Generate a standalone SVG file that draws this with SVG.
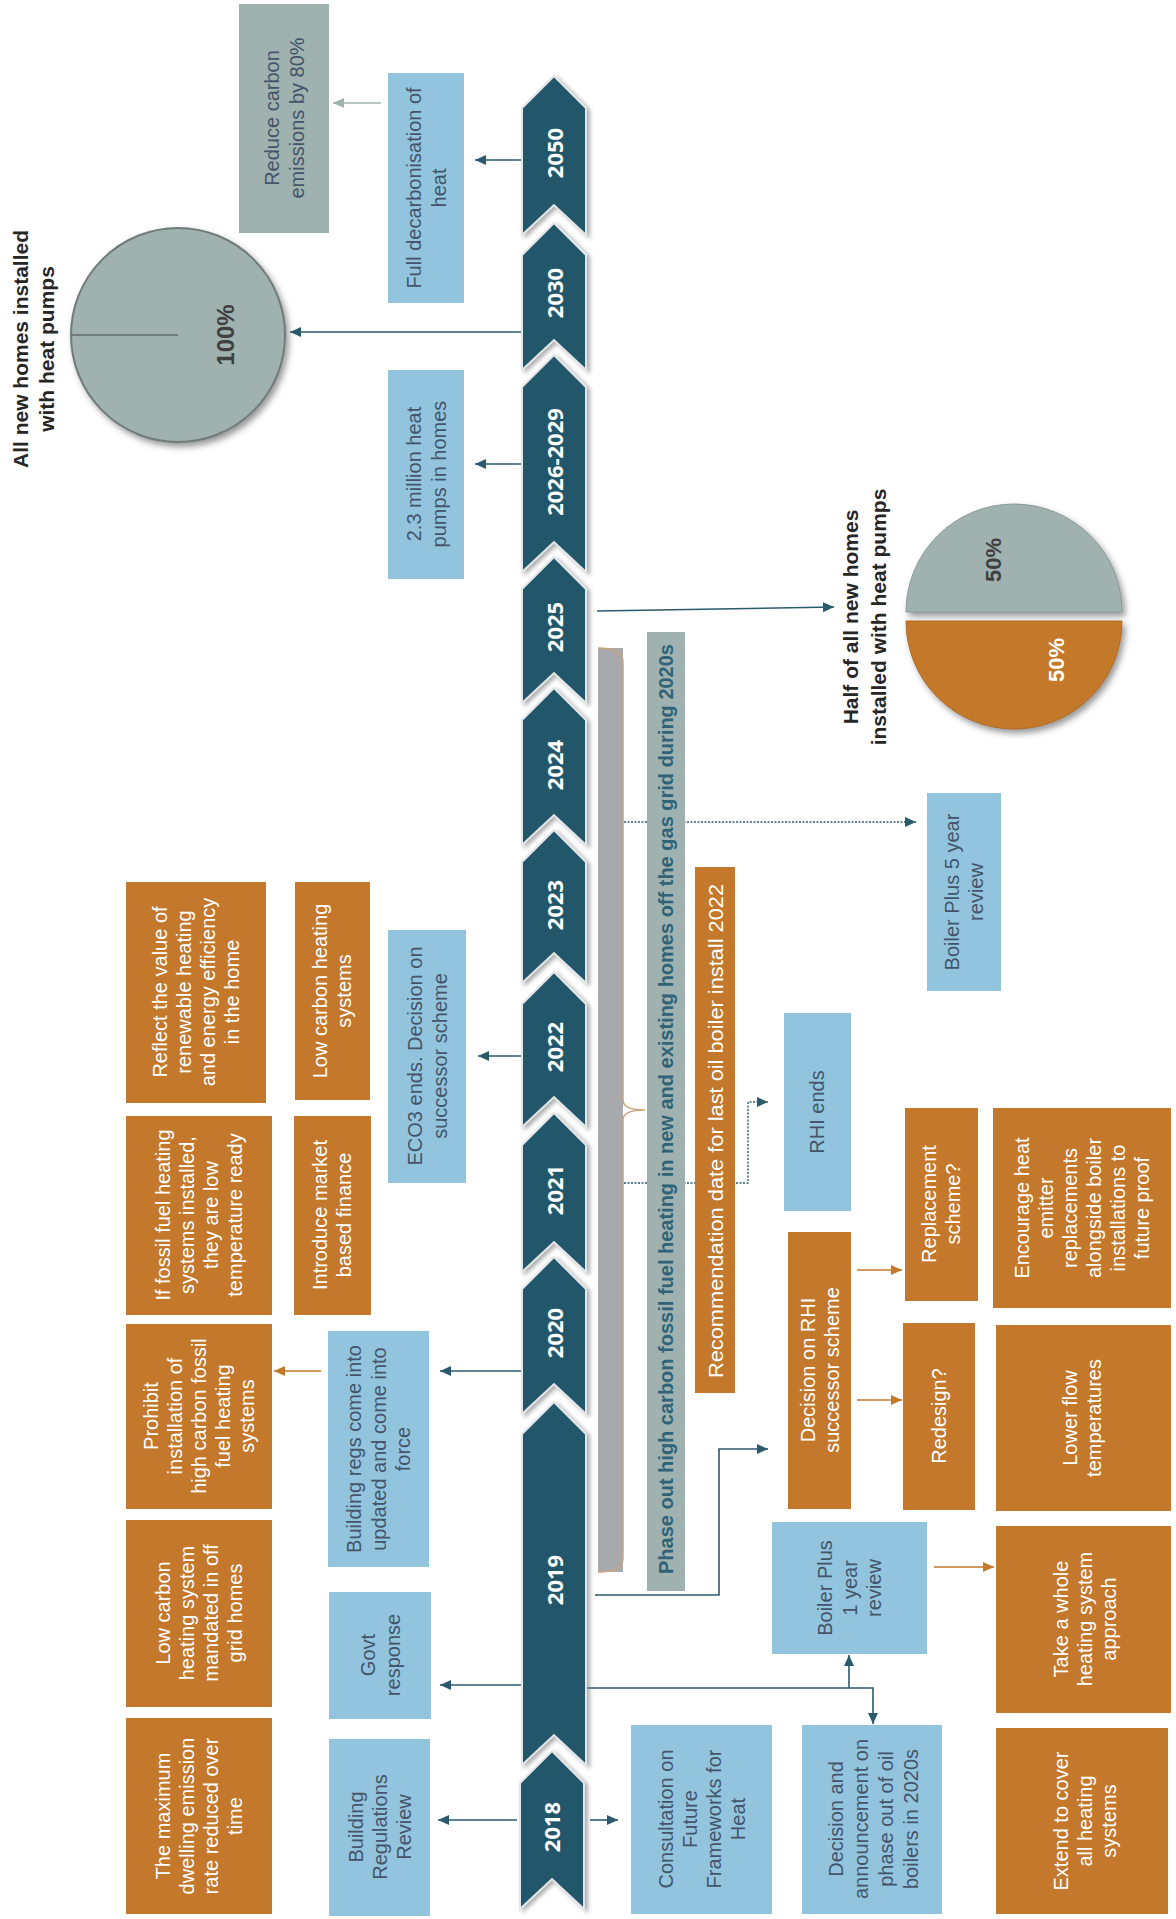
<svg xmlns="http://www.w3.org/2000/svg" width="1176" height="1919" viewBox="0 0 1176 1919">
<defs>
<style>
.b{fill:#92c5dd}
.o{fill:#c3782b}
.g{fill:#9fb2af}
text{font-family:"Liberation Sans",Arial,sans-serif;font-size:20px;text-anchor:middle}
.td{fill:#44546a}
.tw{fill:#ffffff}
.tt{fill:#262626;font-weight:bold;font-size:21px}
.yr{fill:#ffffff;font-family:"Open Sans","Liberation Sans",sans-serif;font-weight:bold;font-size:22px}
.chev{fill:#22566a;stroke:#e3e6e8;stroke-width:2;filter:url(#sh)}
.c{fill:none;stroke:#2b5a6d;stroke-width:1.6}
.cd{fill:none;stroke:#2b5a6d;stroke-width:1.4;stroke-dasharray:2 1.5}
.co{fill:none;stroke:#c3782b;stroke-width:1.6}
.cg{fill:none;stroke:#9fb2af;stroke-width:1.6}
</style>
<filter id="sh" x="-20%" y="-10%" width="150%" height="130%">
<feDropShadow dx="3" dy="2" stdDeviation="2" flood-color="#777" flood-opacity="0.6"/>
</filter>
<filter id="psh" x="-20%" y="-20%" width="150%" height="150%">
<feDropShadow dx="3" dy="4" stdDeviation="3" flood-color="#555" flood-opacity="0.6"/>
</filter>
<marker id="at" markerUnits="userSpaceOnUse" markerWidth="12" markerHeight="12" refX="11" refY="6" orient="auto"><path d="M0,1 L11,6 L0,11 z" fill="#2b5a6d"/></marker>
<marker id="ao" markerUnits="userSpaceOnUse" markerWidth="12" markerHeight="12" refX="11" refY="6" orient="auto"><path d="M0,1 L11,6 L0,11 z" fill="#c3782b"/></marker>
<marker id="ag" markerUnits="userSpaceOnUse" markerWidth="12" markerHeight="12" refX="11" refY="6" orient="auto"><path d="M0,1 L11,6 L0,11 z" fill="#9fb2af"/></marker>
</defs>
<rect width="1176" height="1919" fill="#ffffff"/>

<!-- connectors -->
<g id="connectors">
<line class="c" x1="522" y1="160" x2="475" y2="160" marker-end="url(#at)"/>
<line class="c" x1="522" y1="332" x2="290" y2="332" marker-end="url(#at)"/>
<line class="c" x1="522" y1="464" x2="475" y2="464" marker-end="url(#at)"/>
<line class="cg" x1="381" y1="103" x2="333" y2="103" marker-end="url(#ag)"/>
<line class="c" x1="597" y1="611" x2="834" y2="607" marker-end="url(#at)"/>
<line class="cd" x1="603" y1="822" x2="916" y2="822" marker-end="url(#at)"/>
<line class="c" x1="522" y1="1056" x2="478" y2="1056" marker-end="url(#at)"/>
<path class="cd" d="M603,1183 H748 V1102 H768" marker-end="url(#at)"/>
<line class="c" x1="522" y1="1371" x2="440" y2="1371" marker-end="url(#at)"/>
<line class="co" x1="321" y1="1371" x2="274" y2="1371" marker-end="url(#ao)"/>
<path class="c" d="M595,1595 H719 V1449 H768" marker-end="url(#at)"/>
<line class="c" x1="522" y1="1685" x2="440" y2="1685" marker-end="url(#at)"/>
<path class="c" d="M586,1688 H873 V1724" marker-end="url(#at)"/>
<line class="c" x1="849" y1="1688" x2="849" y2="1655" marker-end="url(#at)"/>
<line class="co" x1="857" y1="1270" x2="902" y2="1270" marker-end="url(#ao)"/>
<line class="co" x1="857" y1="1400" x2="902" y2="1400" marker-end="url(#ao)"/>
<line class="co" x1="934" y1="1567" x2="994" y2="1567" marker-end="url(#ao)"/>
<line class="c" x1="517" y1="1820" x2="438" y2="1820" marker-end="url(#at)"/>
<line class="c" x1="590" y1="1820" x2="618" y2="1820" marker-end="url(#at)"/>
</g>

<!-- timeline chevrons -->
<g id="timeline">
<g id="y2050"><path class="chev" d="M554,76 L586,108 L586,235 L554,205 L522,235 L522,108 Z"/><text class="yr" transform="translate(555,153) rotate(-90)" y="8">2050</text></g>
<g id="y2030"><path class="chev" d="M554,223 L586,255 L586,370 L554,340 L522,370 L522,255 Z"/><text class="yr" transform="translate(555,293) rotate(-90)" y="8">2030</text></g>
<g id="y2026"><path class="chev" d="M554,355 L586,387 L586,572 L554,542 L522,572 L522,387 Z"/><text class="yr" transform="translate(555,462) rotate(-90)" y="8">2026-2029</text></g>
<g id="y2025"><path class="chev" d="M554,557 L586,589 L586,703 L554,673 L522,703 L522,589 Z"/><text class="yr" transform="translate(555,627) rotate(-90)" y="8">2025</text></g>
<g id="y2024"><path class="chev" d="M554,688 L586,720 L586,845 L554,815 L522,845 L522,720 Z"/><text class="yr" transform="translate(555,765) rotate(-90)" y="8">2024</text></g>
<g id="y2023"><path class="chev" d="M554,830 L586,862 L586,983 L554,953 L522,983 L522,862 Z"/><text class="yr" transform="translate(555,905) rotate(-90)" y="8">2023</text></g>
<g id="y2022"><path class="chev" d="M554,972 L586,1004 L586,1127 L554,1097 L522,1127 L522,1004 Z"/><text class="yr" transform="translate(555,1047) rotate(-90)" y="8">2022</text></g>
<g id="y2021"><path class="chev" d="M554,1113 L586,1145 L586,1272 L554,1242 L522,1272 L522,1145 Z"/><text class="yr" transform="translate(555,1190) rotate(-90)" y="8">2021</text></g>
<g id="y2020"><path class="chev" d="M554,1257 L586,1289 L586,1414 L554,1384 L522,1414 L522,1289 Z"/><text class="yr" transform="translate(555,1333) rotate(-90)" y="8">2020</text></g>
<g id="y2019"><path class="chev" d="M554,1402 L586,1434 L586,1765 L554,1735 L522,1765 L522,1434 Z"/><text class="yr" transform="translate(555,1580) rotate(-90)" y="8">2019</text></g>
<g id="y2018"><path class="chev" d="M552,1751 L584,1783 L584,1909 L552,1879 L520,1909 L520,1783 Z"/><text class="yr" transform="translate(552,1827) rotate(-90)" y="8">2018</text></g>
</g>

<!-- brace -->
<g id="brace">
<rect x="598" y="648" width="25" height="924" fill="#a7a9ac"/>
<path d="M598,648 Q623,648 623,662 V1100 Q623,1110 645,1110 Q623,1110 623,1120 V1558 Q623,1572 598,1572" fill="none" stroke="#c9a57d" stroke-width="1.5"/>
</g>

<!-- top-left -->
<g id="title-all">
<text class="tt" transform="translate(34,349) rotate(-90)"><tspan x="0" y="-6">All new homes installed</tspan><tspan x="0" y="20">with heat pumps</tspan></text>
</g>
<g id="pie-100">
<circle cx="178" cy="335" r="107" fill="#9fb2af" stroke="#6f7c7b" stroke-width="2" filter="url(#psh)"/>
<line x1="71" y1="335" x2="178" y2="335" stroke="#6f7c7b" stroke-width="2"/>
<text transform="translate(226,335) rotate(-90)" y="8" style="font-weight:bold;font-size:24px;fill:#404040">100%</text>
</g>
<g id="n-reduce">
<rect class="g" x="239" y="4" width="90" height="229"/>
<text class="td" transform="translate(284,118) rotate(-90)"><tspan x="0" y="-5">Reduce carbon</tspan><tspan x="0" y="20">emissions by 80%</tspan></text>
</g>
<g id="n-fulldecarb">
<rect class="b" x="388" y="73" width="76" height="230"/>
<text class="td" transform="translate(426,188) rotate(-90)"><tspan x="0" y="-5">Full decarbonisation of</tspan><tspan x="0" y="20">heat</tspan></text>
</g>
<g id="n-23million">
<rect class="b" x="388" y="370" width="76" height="209"/>
<text class="td" transform="translate(426,474) rotate(-90)"><tspan x="0" y="-5">2.3 million heat</tspan><tspan x="0" y="20">pumps in homes</tspan></text>
</g>

<!-- half pie -->
<g id="title-half">
<text class="tt" transform="translate(865,617) rotate(-90)"><tspan x="0" y="-7">Half of all new homes</tspan><tspan x="0" y="21">installed with heat pumps</tspan></text>
</g>
<g id="pie-50">
<path d="M906,612 A108,108 0 0 1 1122,612 Z" fill="#9fb2af" stroke="#8a9a98" stroke-width="1" filter="url(#psh)"/>
<path d="M906,621 A108,108 0 0 0 1122,621 Z" fill="#c3782b" stroke="#b06a22" stroke-width="1" filter="url(#psh)"/>
<text transform="translate(993,560) rotate(-90)" y="8" style="font-weight:bold;font-size:22px;fill:#404040">50%</text>
<text transform="translate(1056,660) rotate(-90)" y="8" style="font-weight:bold;font-size:22px;fill:#ffffff">50%</text>
</g>

<!-- bars -->
<g id="n-phaseout">
<rect class="g" x="647" y="632" width="38" height="959"/>
<text transform="translate(666,1109) rotate(-90)" y="7" textLength="930" lengthAdjust="spacingAndGlyphs" style="font-weight:bold;font-size:21px;fill:#2f6378">Phase out high carbon fossil fuel heating in new and existing homes off the gas grid during 2020s</text>
</g>
<g id="n-recommend">
<rect class="o" x="695" y="867" width="40" height="526"/>
<text class="tw" transform="translate(715,1131) rotate(-90)" y="8" textLength="494" lengthAdjust="spacingAndGlyphs" style="font-size:21px">Recommendation date for last oil boiler install 2022</text>
</g>

<!-- blue nodes -->
<g id="n-boiler5">
<rect class="b" x="927" y="793" width="74" height="198"/>
<text class="td" transform="translate(964,892) rotate(-90)"><tspan x="0" y="-5">Boiler Plus 5 year</tspan><tspan x="0" y="19">review</tspan></text>
</g>
<g id="n-rhiends">
<rect class="b" x="784" y="1013" width="67" height="198"/>
<text class="td" transform="translate(817,1112) rotate(-90)" y="7">RHI ends</text>
</g>
<g id="n-eco3">
<rect class="b" x="388" y="930" width="78" height="253"/>
<text class="td" transform="translate(427,1056) rotate(-90)"><tspan x="0" y="-5">ECO3 ends. Decision on</tspan><tspan x="0" y="20">successor scheme</tspan></text>
</g>
<g id="n-buildingregs">
<rect class="b" x="328" y="1331" width="101" height="236"/>
<text class="td" transform="translate(379,1449) rotate(-90)"><tspan x="0" y="-18">Building regs come into</tspan><tspan x="0" y="7">updated and come into</tspan><tspan x="0" y="31">force</tspan></text>
</g>
<g id="n-govt">
<rect class="b" x="329" y="1592" width="102" height="127"/>
<text class="td" transform="translate(380,1655) rotate(-90)"><tspan x="0" y="-5">Govt</tspan><tspan x="0" y="20">response</tspan></text>
</g>
<g id="n-bregreview">
<rect class="b" x="329" y="1739" width="101" height="177"/>
<text class="td" transform="translate(380,1827) rotate(-90)"><tspan x="0" y="-17">Building</tspan><tspan x="0" y="7">Regulations</tspan><tspan x="0" y="31">Review</tspan></text>
</g>
<g id="n-consult">
<rect class="b" x="631" y="1725" width="141" height="189"/>
<text class="td" transform="translate(702,1819) rotate(-90)"><tspan x="0" y="-29">Consultation on</tspan><tspan x="0" y="-5">Future</tspan><tspan x="0" y="19">Frameworks for</tspan><tspan x="0" y="43">Heat</tspan></text>
</g>
<g id="n-decisionoil">
<rect class="b" x="802" y="1725" width="140" height="189"/>
<text class="td" transform="translate(873,1819) rotate(-90)"><tspan x="0" y="-30">Decision and</tspan><tspan x="0" y="-5">announcement on</tspan><tspan x="0" y="20">phase out of oil</tspan><tspan x="0" y="45">boilers in 2020s</tspan></text>
</g>
<g id="n-boiler1">
<rect class="b" x="772" y="1522" width="155" height="132"/>
<text class="td" transform="translate(850,1588) rotate(-90)"><tspan x="0" y="-18">Boiler Plus</tspan><tspan x="0" y="7">1 year</tspan><tspan x="0" y="31">review</tspan></text>
</g>

<!-- orange nodes -->
<g id="n-reflect">
<rect class="o" x="126" y="882" width="140" height="221"/>
<text class="tw" transform="translate(196,992) rotate(-90)"><tspan x="0" y="-29">Reflect the value of</tspan><tspan x="0" y="-5">renewable heating</tspan><tspan x="0" y="19">and energy efficiency</tspan><tspan x="0" y="43">in the home</tspan></text>
</g>
<g id="n-lowcarbonsys">
<rect class="o" x="295" y="882" width="75" height="218"/>
<text class="tw" transform="translate(332,991) rotate(-90)"><tspan x="0" y="-5">Low carbon heating</tspan><tspan x="0" y="19">systems</tspan></text>
</g>
<g id="n-iffossil">
<rect class="o" x="126" y="1116" width="146" height="199"/>
<text class="tw" transform="translate(199,1215) rotate(-90)"><tspan x="0" y="-29">If fossil fuel heating</tspan><tspan x="0" y="-5">systems installed,</tspan><tspan x="0" y="19">they are low</tspan><tspan x="0" y="43">temperature ready</tspan></text>
</g>
<g id="n-market">
<rect class="o" x="294" y="1116" width="77" height="199"/>
<text class="tw" transform="translate(332,1215) rotate(-90)"><tspan x="0" y="-5">Introduce market</tspan><tspan x="0" y="19">based finance</tspan></text>
</g>
<g id="n-prohibit">
<rect class="o" x="126" y="1324" width="146" height="185"/>
<text class="tw" transform="translate(199,1416) rotate(-90)"><tspan x="0" y="-41">Prohibit</tspan><tspan x="0" y="-17">installation of</tspan><tspan x="0" y="7">high carbon fossil</tspan><tspan x="0" y="31">fuel heating</tspan><tspan x="0" y="55">systems</tspan></text>
</g>
<g id="n-lowcarbonmand">
<rect class="o" x="126" y="1520" width="146" height="187"/>
<text class="tw" transform="translate(199,1613) rotate(-90)"><tspan x="0" y="-29">Low carbon</tspan><tspan x="0" y="-5">heating system</tspan><tspan x="0" y="19">mandated in off</tspan><tspan x="0" y="43">grid homes</tspan></text>
</g>
<g id="n-maxdwelling">
<rect class="o" x="126" y="1718" width="146" height="196"/>
<text class="tw" transform="translate(199,1816) rotate(-90)"><tspan x="0" y="-29">The maximum</tspan><tspan x="0" y="-5">dwelling emission</tspan><tspan x="0" y="19">rate reduced over</tspan><tspan x="0" y="43">time</tspan></text>
</g>
<g id="n-decisionrhi">
<rect class="o" x="788" y="1232" width="63" height="277"/>
<text class="tw" transform="translate(820,1370) rotate(-90)"><tspan x="0" y="-5">Decision on RHI</tspan><tspan x="0" y="19">successor scheme</tspan></text>
</g>
<g id="n-replacement">
<rect class="o" x="905" y="1108" width="73" height="193"/>
<text class="tw" transform="translate(941,1204) rotate(-90)"><tspan x="0" y="-5">Replacement</tspan><tspan x="0" y="19">scheme?</tspan></text>
</g>
<g id="n-redesign">
<rect class="o" x="903" y="1323" width="72" height="187"/>
<text class="tw" transform="translate(939,1416) rotate(-90)" y="7">Redesign?</text>
</g>
<g id="n-encourage">
<rect class="o" x="993" y="1108" width="178" height="200"/>
<text class="tw" transform="translate(1082,1208) rotate(-90)"><tspan x="0" y="-53">Encourage heat</tspan><tspan x="0" y="-29">emitter</tspan><tspan x="0" y="-5">replacements</tspan><tspan x="0" y="19">alongside boiler</tspan><tspan x="0" y="43">installations to</tspan><tspan x="0" y="67">future proof</tspan></text>
</g>
<g id="n-lowerflow">
<rect class="o" x="996" y="1325" width="175" height="186"/>
<text class="tw" transform="translate(1082,1418) rotate(-90)"><tspan x="0" y="-5">Lower flow</tspan><tspan x="0" y="19">temperatures</tspan></text>
</g>
<g id="n-takewhole">
<rect class="o" x="996" y="1526" width="175" height="187"/>
<text class="tw" transform="translate(1085,1619) rotate(-90)"><tspan x="0" y="-17">Take a whole</tspan><tspan x="0" y="7">heating system</tspan><tspan x="0" y="31">approach</tspan></text>
</g>
<g id="n-extend">
<rect class="o" x="996" y="1728" width="172" height="186"/>
<text class="tw" transform="translate(1085,1821) rotate(-90)"><tspan x="0" y="-17">Extend to cover</tspan><tspan x="0" y="7">all heating</tspan><tspan x="0" y="31">systems</tspan></text>
</g>
</svg>
